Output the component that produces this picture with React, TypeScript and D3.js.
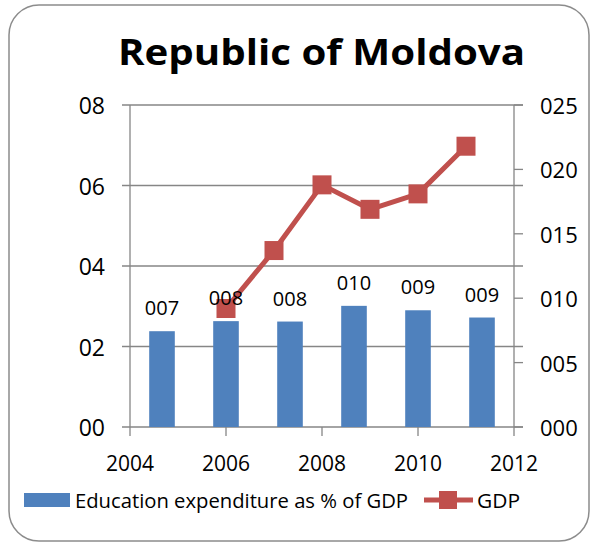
import React from 'react';
import * as d3 from 'd3';

// bars: education expenditure (left axis), one category per bar
const barLabels = ['007', '008', '008', '010', '009', '009'];
const barValues = [0.238, 0.263, 0.262, 0.301, 0.29, 0.272];

// line: GDP (right axis), by year
const gdpYears = [2006, 2007, 2008, 2009, 2010, 2011];
const gdpValues = [0.092, 0.137, 0.188, 0.169, 0.181, 0.218];

const leftTicks = [0, 0.2, 0.4, 0.6, 0.8];
const leftTickLabels = ['00', '02', '04', '06', '08'];
const rightTicks = [0, 0.05, 0.1, 0.15, 0.2, 0.25];
const rightTickLabels = ['000', '005', '010', '015', '020', '025'];
const yearTicks = [2004, 2006, 2008, 2010, 2012];

const W = 594;
const H = 542;
const font = "'Open Sans', 'Noto Sans', sans-serif";

const App: React.FC = () => {
  const left = 130;
  const right = 514;
  const top = 105;
  const bottom = 427;

  const yLeft = d3.scaleLinear().domain([0, 0.8]).range([bottom, top]);
  const yRight = d3.scaleLinear().domain([0, 0.25]).range([bottom, top]);
  const xYear = d3.scaleLinear().domain([2004, 2012]).range([left, right]);
  const xBand = d3
    .scaleBand<number>()
    .domain(barValues.map((_, i) => i))
    .range([left, right])
    .paddingInner(0.6)
    .paddingOuter(0.3);

  const line = d3
    .line<number>()
    .x((_, i) => xYear(gdpYears[i]))
    .y((d) => yRight(d));

  const grid = '#868686';
  const barColor = '#4F81BD';
  const lineColor = '#C0504D';

  return (
    <svg
      width={W}
      height={H}
      style={{ position: 'absolute', left: 0, top: 0, background: '#fff' }}
    >
      <rect x={9} y={5} width={580} height={536} rx={30} ry={30} fill="#fff" stroke="#8c8c8c" strokeWidth={1.5} />
      <text
        x={118}
        y={65}
        fontFamily={font}
        fontWeight="bold"
        fontSize={35}
        textLength={407}
        lengthAdjust="spacingAndGlyphs"
        fill="#000"
      >
        Republic of Moldova
      </text>

      {leftTicks.map((t, i) => (
        <g key={'l' + i}>
          <line x1={122} x2={right + 9} y1={yLeft(t)} y2={yLeft(t)} stroke={grid} strokeWidth={1.3} />
          <text x={105} y={yLeft(t) + 9} textAnchor="end" fontFamily={font} fontSize={23} fill="#000">
            {leftTickLabels[i]}
          </text>
        </g>
      ))}
      {rightTicks.map((t, i) => (
        <g key={'r' + i}>
          <line x1={right} x2={right + 9} y1={yRight(t)} y2={yRight(t)} stroke={grid} strokeWidth={1.3} />
          <text x={540} y={yRight(t) + 9} textAnchor="start" fontFamily={font} fontSize={22} fill="#000">
            {rightTickLabels[i]}
          </text>
        </g>
      ))}
      <line x1={left} x2={left} y1={top} y2={bottom} stroke={grid} strokeWidth={1.3} />
      <line x1={right} x2={right} y1={top} y2={bottom} stroke={grid} strokeWidth={1.3} />
      {yearTicks.map((t) => (
        <g key={'x' + t}>
          <line x1={xYear(t)} x2={xYear(t)} y1={bottom} y2={bottom + 9} stroke={grid} strokeWidth={1.3} />
          <text x={xYear(t)} y={471} textAnchor="middle" fontFamily={font} fontSize={21} fill="#000">
            {t}
          </text>
        </g>
      ))}

      {barValues.map((v, i) => (
        <rect
          key={'b' + i}
          x={xBand(i)}
          y={yLeft(v)}
          width={xBand.bandwidth()}
          height={bottom - yLeft(v)}
          fill={barColor}
        />
      ))}

      <path d={line(gdpValues) || ''} fill="none" stroke={lineColor} strokeWidth={5} strokeLinejoin="round" />
      {gdpValues.map((v, i) => (
        <rect
          key={'m' + i}
          x={xYear(gdpYears[i]) - 9.5}
          y={yRight(v) - 9.5}
          width={19}
          height={19}
          fill={lineColor}
        />
      ))}

      {barValues.map((v, i) => (
        <text
          key={'t' + i}
          x={(xBand(i) || 0) + xBand.bandwidth() / 2}
          y={yLeft(v) - 16}
          textAnchor="middle"
          fontFamily={font}
          fontSize={20}
          fill="#000"
        >
          {barLabels[i]}
        </text>
      ))}

      <rect x={24} y={493} width={46} height={14} fill={barColor} />
      <text
        x={75}
        y={508}
        fontFamily={font}
        fontSize={20}
        textLength={333}
        lengthAdjust="spacingAndGlyphs"
        fill="#000"
      >
        Education expenditure as % of GDP
      </text>
      <line x1={424} x2={473} y1={500} y2={500} stroke={lineColor} strokeWidth={5} />
      <rect x={439} y={491} width={18} height={18} fill={lineColor} />
      <text x={477} y={508} fontFamily={font} fontSize={20} textLength={43} lengthAdjust="spacingAndGlyphs" fill="#000">
        GDP
      </text>
    </svg>
  );
};

export default App;
